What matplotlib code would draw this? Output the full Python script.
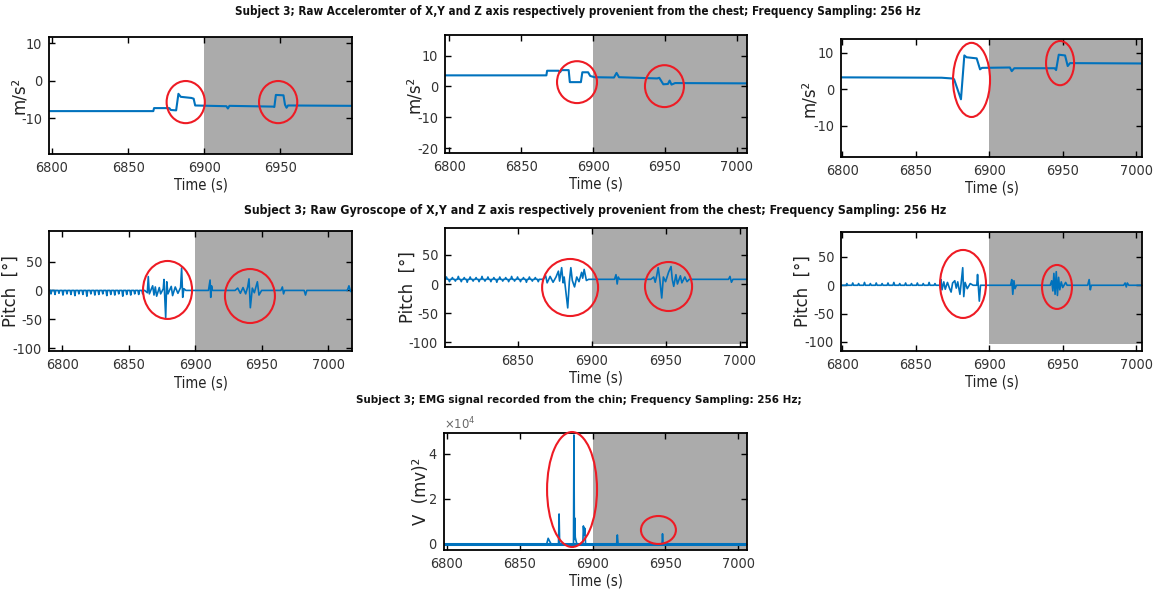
import matplotlib
matplotlib.use("Agg")
import matplotlib.pyplot as plt
from matplotlib import font_manager as fm
from matplotlib.patches import Ellipse
from matplotlib.ticker import ScalarFormatter

W, H = 1157, 599

# Prefer a narrow sans face; fall back to regular Liberation Sans.
_fonts = fm.fontManager.ttflist
if any(f.name == 'Liberation Sans Narrow' for f in _fonts):
    FAM, STRETCH = 'Liberation Sans Narrow', 'normal'
elif any(f.name == 'DejaVu Sans' and f.stretch == 'condensed' for f in _fonts):
    FAM, STRETCH = 'DejaVu Sans', 'condensed'
else:
    FAM, STRETCH = 'Liberation Sans', 'normal'
plt.rcParams['font.family'] = [FAM, 'DejaVu Sans']
plt.rcParams['font.stretch'] = STRETCH
plt.rcParams['axes.unicode_minus'] = False

LINE = '#0072BD'
SHADE = '#ABABAB'
RING = '#EE1B24'

# ---------------- accelerometer (m/s^2) ----------------
acc_x_t = [6798, 6866.5, 6867, 6877, 6878, 6881.5, 6883, 6884.5, 6891.5, 6893, 6894,
           6914.5, 6915.5, 6916.5, 6945, 6946, 6947, 6952, 6953, 6954, 6955, 6998]
acc_x_v = [-8.1, -8.1, -7.3, -7.3, -7.8, -7.9, -3.5, -4.3, -4.6, -4.8, -6.6,
           -6.8, -7.4, -6.7, -6.9, -7.0, -3.8, -3.9, -6.4, -7.2, -6.6, -6.7]

acc_y_t = [6797, 6867.5, 6868, 6876, 6877, 6878, 6883, 6883.8, 6891.5, 6892.5, 6896.5,
           6898, 6901, 6914.5, 6916.3, 6918, 6944.5, 6946, 6948.8, 6952, 6953.2,
           6954.5, 6957, 7007]
acc_y_v = [3.6, 3.6, 5.1, 5.1, 4.6, 5.3, 5.3, 1.4, 1.4, 4.6, 4.6,
           3.4, 3.0, 2.9, 4.4, 3.0, 2.6, 2.8, 0.7, 0.8, 1.9,
           0.6, 1.1, 1.0]

acc_z_t = [6799, 6867.5, 6874.5, 6876, 6880.7, 6883, 6884.5, 6891.4, 6893.7, 6895,
           6914, 6915.3, 6917, 6944.5, 6945.5, 6947.3, 6951.6, 6953.4, 6955, 7004]
acc_z_v = [3.3, 3.2, 3.0, 2.8, -2.7, 9.3, 8.8, 8.5, 5.5, 5.9,
           6.0, 5.0, 5.8, 5.8, 5.3, 9.5, 9.3, 6.4, 7.2, 7.1]

# ---------------- gyroscope (deg) ----------------
gyr_x_rip_t = [6791.5, 6794.5, 6797.5, 6800.5, 6803.5, 6806.5, 6809.5, 6812.5, 6815.5,
               6818.5, 6821.5, 6824.5, 6827.5, 6830.5, 6833.5, 6836.5, 6839.5, 6842.5,
               6845.5, 6848.5, 6851.5, 6854.5, 6857.5, 6860.5]
gyr_x_rip_v = [-6, -7, -5, -8, -6, -7, -9, -6, -7, -10, -6, -8, -7, -6, -9, -7, -8, -6,
               -10, -7, -8, -6, -7, -6]
gyr_x_t = [6862, 6864, 6864.7, 6865.5, 6868, 6869, 6870, 6871, 6873, 6874, 6876, 6876.5,
           6877.8, 6878.6, 6879.5, 6882, 6883, 6885, 6887, 6889, 6889.8, 6890.6, 6891.5,
           6893, 6910, 6911.2, 6911.7, 6912.3, 6913, 6930, 6932, 6934, 6936, 6938,
           6939.5, 6940.5, 6941.5, 6943, 6944.5, 6946.8, 6948, 6950, 6964.5, 6965.6,
           6966.5, 6967.3, 6982, 6983, 6984, 7014.5, 7015.7, 7017, 7018]
gyr_x_v = [0, -4, 24, -6, 8, -8, 6, -10, 5, -6, 3, 19,
           -47, 15, -6, 7, -9, 6, -5, 5, 39, -12, 3,
           0, 0, 18, -12, 8, 0, 0, 4, -5, 5, -6,
           6, 20, -30, 4, -4, 15, -8, 0, 0, 6,
           -6, 0, 0, -8, 0, 0, 8, -2, 0]

gyr_y_rip_t = [6802, 6804, 6806, 6808, 6810, 6812, 6814, 6816, 6818, 6820, 6822, 6824,
               6826, 6828, 6830, 6832, 6834, 6836, 6838, 6840, 6842, 6844, 6846, 6848,
               6850, 6852, 6854, 6856, 6858, 6860, 6862, 6864]
gyr_y_rip_v = [4, -4, 3, -3, 5, -4, 3, -5, 4, -3, 3, -4, 5, -3, 4, -4, 3, -5, 4, -3,
               3, -4, 5, -3, 4, -4, 3, -5, 4, -3, 3, -4]
gyr_y_t = [6866, 6867.4, 6869, 6870, 6872, 6874, 6876, 6877.6, 6878.4, 6879.8, 6880.8,
           6881.5, 6883.9, 6885, 6886, 6887, 6888.5, 6890, 6891.5, 6893.3, 6894, 6895,
           6896.5, 6898, 6915.5, 6916.5, 6917.3, 6918, 6919, 6940, 6942, 6943, 6944,
           6945, 6946, 6947.4, 6948.5, 6950, 6952, 6953.7, 6954.5, 6955.5, 6957, 6958,
           6960, 6961, 6963, 6964.5, 6966, 6992.5, 6993.5, 6994.5, 6995.5, 7005]
gyr_y_v = [8, 8, 14, 2, 13, 3, 12, 22, 5, 28, 2,
           12, -41, 4, 28, 6, -5, 12, 4, 20, 10, 25,
           6, 8, 8, 16, 0, 12, 8, 8, 12, 3, 14,
           28, 10, -24, 12, 4, 20, 30, 8, -4, 16, 0,
           14, 2, 12, 4, 8, 8, 13, 3, 8, 8]

gyr_z_rip_t = [6803, 6807, 6811, 6815, 6819, 6823, 6827, 6831, 6835, 6839, 6843, 6847,
               6851, 6855, 6859, 6863]
gyr_z_rip_v = [3, 4, 3, 5, 3, 4, 3, 4, 5, 3, 4, 3, 4, 3, 5, 3]
gyr_z_t = [6866.5, 6867.1, 6867.8, 6869, 6870, 6871.5, 6873, 6874, 6875, 6876.5, 6877.5,
           6878.5, 6880, 6880.8, 6881.9, 6882.6, 6883.5, 6885, 6887, 6889, 6891.5, 6892,
           6893.2, 6894, 6914.5, 6915.3, 6916, 6916.8, 6917.5, 6918.5, 6941.5, 6942.5,
           6943.3, 6944, 6944.8, 6945.6, 6946.4, 6947.2, 6948, 6949, 6950, 6952, 6953,
           6967, 6968, 6968.8, 6969.5, 6991.5, 6992.5, 6993.3, 6994, 6995, 7004]
gyr_z_v = [0, 10, -8, 6, -7, 5, -6, -12, 4, 8, -5,
           6, -16, 3, 31, -20, 5, -6, 3, 0, 0, 19,
           -28, 0, 0, 10, -16, 8, -6, 0, 0, 8,
           -10, 21, -16, 24, -18, 14, -8, 6, -4, 5, 0,
           0, 10, -8, 0, 0, 4, -3, 4, 0, 0]

# ---------------- EMG ----------------
emg_t = [6798, 6868.5, 6869.5, 6870.5, 6871.5, 6876.6, 6877, 6877.4, 6886.9, 6887.2,
         6887.5, 6887.8, 6888.1, 6888.6, 6889.2, 6893.3, 6893.7, 6894.2, 6894.6, 6895.2,
         6916.5, 6917, 6917.5, 6947.7, 6948, 6948.4, 7006]
emg_v = [0, 0, 2500, 1200, 0, 0, 13300, 0, 0, 48400,
         2000, 11500, 3000, 1500, 0, 0, 8000, 4000, 7000, 0,
         0, 4000, 0, 0, 4500, 0, 0]

SLEEP_ONSET = 6900
XTICKS = [6800, 6850, 6900, 6950, 7000]

TITLES = [
    'Subject 3; Raw Acceleromter of X,Y and Z axis respectively provenient from the chest; Frequency Sampling: 256 Hz',
    'Subject 3; Raw Gyroscope of X,Y and Z axis respectively provenient from the chest; Frequency Sampling: 256 Hz',
    'Subject 3; EMG signal recorded from the chin; Frequency Sampling: 256 Hz;',
]


def with_ripple(rt, rv, base, t, v):
    """Merge a train of small oscillations (before the events) with the event trace."""
    tt, vv = [], []
    for a, b in zip(rt, rv):
        tt += [a - 0.6, a, a + 0.6]
        vv += [base, base + b, base]
    return tt + list(t), vv + list(v)


def rect(x0, y0, x1, y1):
    return [x0 / W, 1 - y1 / H, (x1 - x0) / W, (y1 - y0) / H]


fig = plt.figure(figsize=(W / 100, H / 100), dpi=100)
renderer = fig.canvas.get_renderer()


def text_width(s, size, weight='normal'):
    t = fig.text(0, 0, s, fontsize=size, fontweight=weight)
    w = t.get_window_extent(renderer).width
    t.remove()
    return w


def fit_size(s, target, weight='normal', cap=None):
    size = 10 * target / text_width(s, 10, weight)
    return min(size, cap) if cap else size


TICK_FS = fit_size('6800', 33, cap=12)
XLABEL_FS = fit_size('Time (s)', 54, cap=14)
YLABEL_FS = fit_size('Pitch  [\u00b0]', 72, cap=14)

gx_t, gx_v = with_ripple(gyr_x_rip_t, gyr_x_rip_v, 0, gyr_x_t, gyr_x_v)
gy_t, gy_v = with_ripple(gyr_y_rip_t, gyr_y_rip_v, 8, gyr_y_t, gyr_y_v)
gz_t, gz_v = with_ripple(gyr_z_rip_t, gyr_z_rip_v, 0, gyr_z_t, gyr_z_v)
gy_t = [6801] + gy_t
gy_v = [8] + gy_v
gz_t = [6799] + gz_t
gz_v = [0] + gz_v

panels = [
    dict(box=(49, 37, 352, 154), xlim=(6798, 6997), ylim=(-19.5, 11.6), yt=[-10, 0, 10],
         yl='m/s\u00b2', ylx=-0.069, t=acc_x_t, v=acc_x_v, lw=1.5, sb=None,
         rings=[(6887.8, -5.7, 25.1, 11.2), (6948.5, -5.7, 25.1, 11.2)]),
    dict(box=(445, 35, 747, 153), xlim=(6797, 7007), ylim=(-21.6, 16.7), yt=[-20, -10, 0, 10],
         yl='m/s\u00b2', ylx=-0.073, t=acc_y_t, v=acc_y_v, lw=1.5, sb=None,
         rings=[(6888.8, 1.4, 27.8, 13.6), (6949.6, 0.1, 27.1, 13.6)]),
    dict(box=(841, 39, 1142, 157), xlim=(6799, 7004), ylim=(-18.5, 13.8), yt=[-10, 0, 10],
         yl='m/s\u00b2', ylx=-0.076, t=acc_z_t, v=acc_z_v, lw=1.5, sb=None,
         rings=[(6887.9, 2.6, 25.2, 20.3), (6948.2, 7.2, 19.1, 12.1)]),
    dict(box=(49, 231, 352, 351), xlim=(6790, 7018), ylim=(-105, 103), yt=[-100, -50, 0, 50],
         yl='Pitch  [\u00b0]', ylx=-0.096, t=gx_t, v=gx_v, lw=1.2, sb=None,
         rings=[(6879.2, 0.8, 36.9, 100.5), (6941.2, -9.7, 37.6, 93.6)]),
    dict(box=(445, 228, 747, 347), xlim=(6801, 7005), ylim=(-108, 96), yt=[-100, -50, 0, 50],
         yl='Pitch  [\u00b0]', ylx=-0.093, t=gy_t, v=gy_v, lw=1.2, sb=-103,
         rings=[(6885.5, -6, 37.8, 97.8), (6952, -4.3, 31.8, 84)]),
    dict(box=(841, 232, 1142, 351), xlim=(6799, 7004), ylim=(-116, 94), yt=[-100, -50, 0, 50],
         yl='Pitch  [\u00b0]', ylx=-0.096, t=gz_t, v=gz_v, lw=1.2, sb=-103,
         rings=[(6882.1, 2.3, 31.3, 120), (6946.1, -3, 20.4, 77.6)]),
    dict(box=(444, 433, 747, 550), xlim=(6798, 7006), ylim=(-2700, 49300), yt=[0, 20000, 40000],
         yl='V  (mv)\u00b2', ylx=-0.046, t=emg_t, v=emg_v, lw=1.2, sb=None,
         rings=[(6885.9, 24190, 34.3, 51100), (6945.2, 6190, 24, 12440)]),
]

for i, p in enumerate(panels):
    ax = fig.add_axes(rect(*p['box']))
    x0, x1 = p['xlim']
    ax.set_xlim(x0, x1)
    ax.set_ylim(*p['ylim'])
    lo = p['sb'] if p['sb'] is not None else p['ylim'][0]
    ax.fill_between([SLEEP_ONSET, x1], lo, p['ylim'][1], color=SHADE, lw=0, zorder=0)
    ax.plot(p['t'], p['v'], color=LINE, lw=p['lw'], zorder=2)
    if i == 6:
        ax.axhline(0, color=LINE, lw=2.2, zorder=2)
    for cx, cy, w, h in p['rings']:
        ax.add_patch(Ellipse((cx, cy), w, h, fill=False, ec=RING, lw=1.5, zorder=3,
                             clip_on=False))
    ax.set_xticks([x for x in XTICKS if x0 <= x <= x1])
    ax.set_yticks(p['yt'])
    ax.tick_params(direction='in', top=True, right=True, length=4, width=1,
                   labelsize=TICK_FS, colors='black', labelcolor='#333333', pad=5)
    for s in ax.spines.values():
        s.set_linewidth(1.3)
    ax.set_xlabel('Time (s)', fontsize=XLABEL_FS, color='#222222')
    ax.xaxis.set_label_coords(0.5, -0.2)
    ax.set_ylabel(p['yl'], fontsize=YLABEL_FS, color='#222222')
    ax.yaxis.set_label_coords(p['ylx'], 0.5)
    if i == 6:
        fmt = ScalarFormatter(useMathText=True)
        fmt.set_powerlimits((0, 0))
        ax.yaxis.set_major_formatter(fmt)
        ax.yaxis.get_offset_text().set_fontsize(TICK_FS * 0.9)
        ax.yaxis.get_offset_text().set_color('#666666')

title_pos = [(578, 12, 680), (595, 211, 700), (579, 400, 440)]
for (x, y, w), s in zip(title_pos, TITLES):
    fs = fit_size(s, w, weight='bold', cap=13)
    fig.text(x / W, 1 - y / H, s, ha='center', va='center', fontsize=fs,
             fontweight='bold', color='#111111')

fig.savefig('out.png', dpi=100)
